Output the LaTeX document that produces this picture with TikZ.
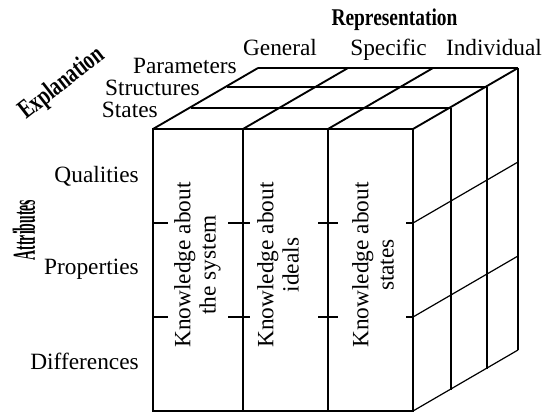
\documentclass[tikz,border=0pt]{standalone}
\usepackage{fontspec}
\setmainfont{Liberation Serif}
\tikzset{
  lbl/.style={font=\fontsize{17.5}{19}\selectfont, inner sep=0pt},
  head/.style={font=\fontsize{18}{20}\selectfont\bfseries, inner sep=0pt},
  cell/.style={lbl, rotate=90, align=center},
  boxline/.style={line width=1.4pt},
  gridline/.style={line width=0.9pt},
}

\begin{document}
\begin{tikzpicture}[x=0.75pt, y=-0.75pt]
	\useasboundingbox (0,0) rectangle (552,414);

	% top face
	\foreach \dx/\dy in {38/21,74/42,105/61}
		\draw[boxline] (153+\dx,129-\dy) -- (413+\dx,129-\dy);
	\foreach \x in {153,243,328,413}
		\draw[boxline] (\x,129) -- ++(105,-61);

	% right face
	\foreach \dx/\dy in {38/21,74/42,105/61}
		\draw[gridline] (413+\dx,129-\dy) -- (413+\dx,411-\dy);
	\foreach \y in {223,317,411}
		\draw[gridline] (413,\y) -- ++(105,-61);

	% front face
	\draw[boxline] (153,129) rectangle (413,411);
	\draw[boxline] (243,129) -- (243,411) (328,129) -- (328,411);
	\foreach \y in {223,317}
		\draw[boxline] (153,\y) -- ++(15,0) (228,\y) -- (250,\y)
			(318,\y) -- (338,\y) (406,\y) -- (413,\y);

	\node[cell] (system) at (197.5,265) {Knowledge about\\the system};
	\node[cell] (ideals) at (278,265) {Knowledge about\\ideals};
	\node[cell] (states) at (373,265) {Knowledge about\\states};

	% axes
	\node[head, anchor=base] (repr) at (394.5,25) {\scalebox{0.81}[1]{Representation}};
	\node[lbl, anchor=base] (general) at (280,55) {General};
	\node[lbl, anchor=base] (specific) at (388.5,55) {Specific};
	\node[lbl, anchor=base] (individual) at (494,55) {Individual};

	\node[head, font=\fontsize{20}{22}\selectfont\bfseries, rotate=38] (expl) at (62,84) {\scalebox{0.72}[1]{Explanation}};
	\node[lbl, anchor=base east] (param) at (237,73) {Parameters};
	\node[lbl, anchor=base east] (struct) at (200,95) {Structures};
	\node[lbl, anchor=base east] (stat) at (158,117) {States};

	\node[head, font=\fontsize{24}{26}\selectfont\bfseries, rotate=90] (attr) at (24,230) {\scalebox{0.43}[1]{Attributes}};
	\node[lbl, anchor=base east] (qual) at (139,182) {Qualities};
	\node[lbl, anchor=base east] (prop) at (139,274) {Properties};
	\node[lbl, anchor=base east] (diff) at (139,369) {Differences};
\end{tikzpicture}
\end{document}
